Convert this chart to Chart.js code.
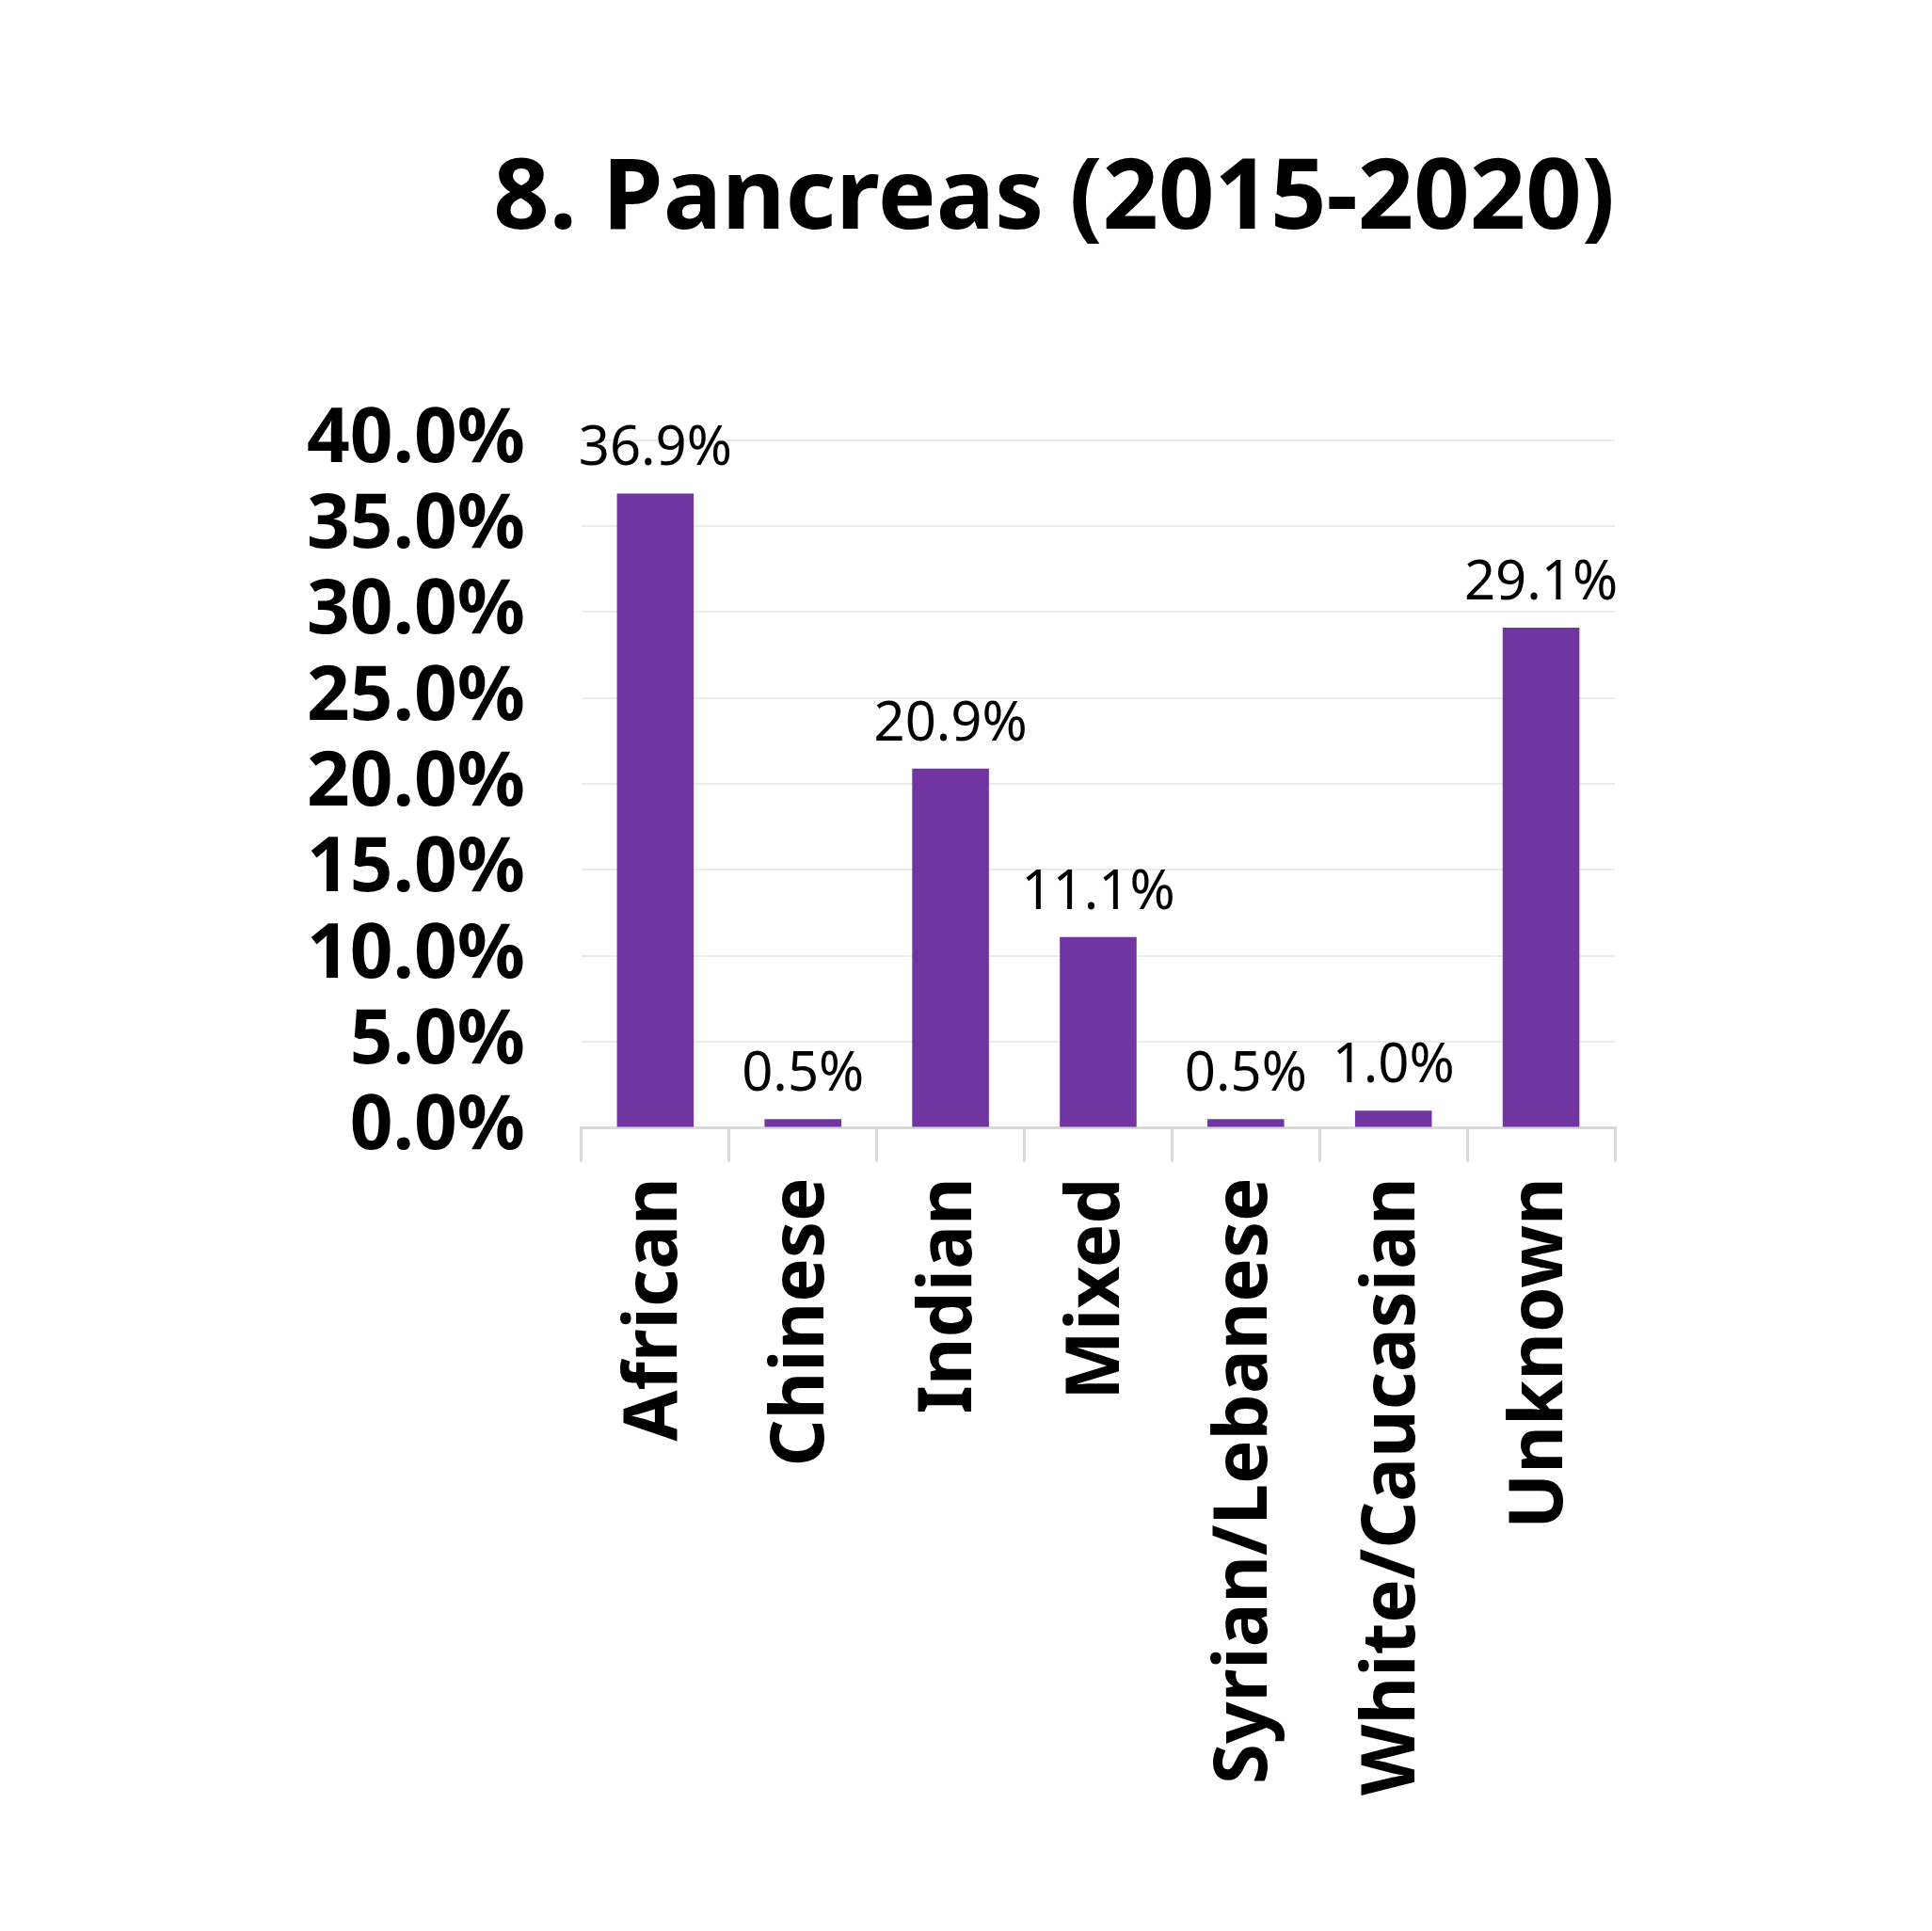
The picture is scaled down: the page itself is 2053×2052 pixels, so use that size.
<!DOCTYPE html>
<html>
<head>
<meta charset="utf-8">
<script src="https://cdn.jsdelivr.net/npm/chart.js@4"></script>
<style>
  body { margin: 0; background: #ffffff; }
  #wrap { width: 2053px; height: 2052px; }
</style>
</head>
<body>
<div id="wrap"><canvas id="chart" width="2053" height="2052"></canvas></div>
<script>
const chartTitle = "8. Pancreas (2015-2020)";
const categories = ["African", "Chinese", "Indian", "Mixed", "Syrian/Lebanese", "White/Caucasian", "Unknown"];
const shares = [36.9, 0.5, 20.9, 11.1, 0.5, 1.0, 29.1];
const yTicks = [0, 5, 10, 15, 20, 25, 30, 35, 40];

const barColor = "#7035A0";
const gridColor = "#EBEBEB";
const axisColor = "#D9D9D9";
const fontFamily = "'Noto Sans', sans-serif";

// draws the percentage above each bar
const barLabels = {
  id: "barLabels",
  afterDatasetsDraw: (chart) => {
    const ctx = chart.ctx;
    const meta = chart.getDatasetMeta(0);
    ctx.save();
    ctx.font = "58px " + fontFamily;
    ctx.fillStyle = "#000000";
    ctx.textAlign = "center";
    ctx.textBaseline = "alphabetic";
    meta.data.forEach((bar, i) => {
      ctx.fillText(shares[i].toFixed(1) + "%", bar.x, bar.y - 30);
    });
    ctx.restore();
  },
};

const chart = new Chart(document.getElementById("chart"), {
  type: "bar",
  data: {
    labels: categories,
    datasets: [
      {
        data: shares,
        backgroundColor: barColor,
        borderWidth: 0,
        categoryPercentage: 1.0,
        barPercentage: 0.52,
      },
    ],
  },
  options: {
    responsive: false,
    animation: false,
    layout: {
      padding: { left: 266, right: 337, top: 0, bottom: 127 },
    },
    plugins: {
      legend: { display: false },
      tooltip: { enabled: false },
      title: {
        display: true,
        text: chartTitle,
        align: "end",
        color: "#000000",
        font: { family: fontFamily, size: 104, weight: "bold" },
        padding: { top: 151, bottom: 192 },
      },
    },
    scales: {
      x: {
        offset: true,
        grid: {
          offset: true,
          drawOnChartArea: false,
          drawTicks: true,
          tickLength: 36,
          color: axisColor,
          lineWidth: 3,
        },
        border: { display: true, color: axisColor, width: 3 },
        ticks: {
          color: "#000000",
          font: { family: fontFamily, size: 78, weight: "bold" },
          minRotation: 90,
          maxRotation: 90,
          padding: 17,
          autoSkip: false,
        },
      },
      y: {
        min: yTicks[0],
        max: yTicks[yTicks.length - 1],
        afterBuildTicks: (axis) => {
          axis.ticks = yTicks.map((v) => ({ value: v }));
        },
        grid: {
          drawTicks: false,
          color: gridColor,
          lineWidth: 2,
        },
        border: { display: false },
        ticks: {
          color: "#000000",
          font: { family: fontFamily, size: 80, weight: "bold" },
          padding: 60,
          autoSkip: false,
          callback: (value) => value.toFixed(1) + "%",
        },
      },
    },
  },
  plugins: [barLabels],
});
</script>
</body>
</html>
